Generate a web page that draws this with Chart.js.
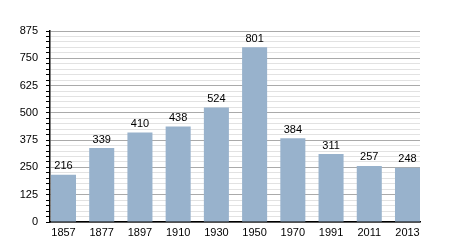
<!DOCTYPE html>
<html>
<head>
<meta charset="utf-8">
<script src="https://cdn.jsdelivr.net/npm/chart.js@4"></script>
<style>
  html, body { margin: 0; padding: 0; background: #fff; }
  #wrap { width: 450px; height: 250px; }
</style>
</head>
<body>
<div id="wrap"><canvas id="chart" width="450" height="250"></canvas></div>
<script>
// Population by census year
const years = ["1857", "1877", "1897", "1910", "1930", "1950", "1970", "1991", "2011", "2013"];
const population = [216, 339, 410, 438, 524, 801, 384, 311, 257, 248];
const yTicks = [0, 125, 250, 375, 500, 625, 750, 875];

// Draws the value above each bar
const valueLabels = {
  id: "valueLabels",
  afterDatasetsDraw(chart) {
    const ctx = chart.ctx;
    const meta = chart.getDatasetMeta(0);
    ctx.save();
    ctx.font = "11px 'Liberation Sans', Arial, sans-serif";
    ctx.fillStyle = "#000";
    ctx.textAlign = "center";
    ctx.textBaseline = "bottom";
    meta.data.forEach((bar, i) => {
      ctx.fillText(String(population[i]), bar.x, bar.y - 3);
    });
    ctx.restore();
  }
};

const font = { size: 11, family: "'Liberation Sans', Arial, sans-serif" };

new Chart(document.getElementById("chart"), {
  type: "bar",
  data: {
    datasets: [{
      data: years.map((y, i) => ({ x: i, y: population[i] })),
      backgroundColor: "#98b2cc",
      borderWidth: 0,
      barPercentage: 0.655,
      categoryPercentage: 1
    }]
  },
  options: {
    responsive: false,
    animation: false,
    layout: { padding: { top: 31, right: 30, left: 0, bottom: 0 } },
    plugins: { legend: { display: false }, tooltip: { enabled: false } },
    scales: {
      x: {
        type: "linear",
        offset: false,
        min: -0.353,
        max: 9.327,
        afterBuildTicks(scale) { scale.ticks = years.map((y, i) => ({ value: i })); },
        afterFit(scale) { scale.height = 28; },
        grid: { display: false, drawTicks: false },
        border: { color: "#000", width: 1.5 },
        ticks: {
          color: "#000",
          padding: 4,
          autoSkip: false,
          maxRotation: 0,
          font,
          callback: v => years[v] ?? ""
        }
      },
      y: {
        min: 0,
        max: 875,
        afterFit(scale) { scale.width = 50; },
        border: { color: "#000", width: 1.5 },
        grid: {
          color: c => (c.tick.value % 125 === 0 ? "#aaaaaa" : "#e2e2e2"),
          tickColor: "#000",
          tickLength: 4,
          lineWidth: 1
        },
        ticks: {
          stepSize: 25,
          autoSkip: false,
          color: "#000",
          padding: 8,
          font,
          callback: v => (yTicks.includes(v) ? String(v) : "")
        }
      }
    }
  },
  plugins: [valueLabels]
});
</script>
</body>
</html>
